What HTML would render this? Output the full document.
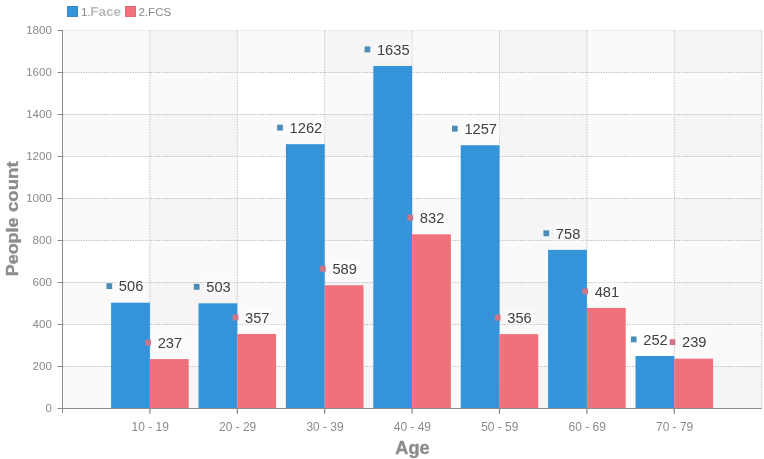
<!DOCTYPE html><html><head><meta charset="utf-8"><title>chart</title><style>html,body{margin:0;padding:0;background:#fff}svg{display:block;will-change:transform}text{font-family:"Liberation Sans",sans-serif}</style></head><body>
<svg width="764" height="459" viewBox="0 0 764 459">
<rect width="764" height="459" fill="#fff"/>
<rect x="62.5" y="30.50" width="699.20" height="42.00" fill="#000" fill-opacity="0.018"/>
<rect x="62.5" y="114.50" width="699.20" height="42.00" fill="#000" fill-opacity="0.018"/>
<rect x="62.5" y="198.50" width="699.20" height="42.00" fill="#000" fill-opacity="0.018"/>
<rect x="62.5" y="282.50" width="699.20" height="42.00" fill="#000" fill-opacity="0.018"/>
<rect x="62.5" y="366.50" width="699.20" height="42.00" fill="#000" fill-opacity="0.018"/>
<rect x="149.90" y="30.5" width="87.4" height="378.0" fill="#000" fill-opacity="0.018"/>
<rect x="324.70" y="30.5" width="87.4" height="378.0" fill="#000" fill-opacity="0.018"/>
<rect x="499.50" y="30.5" width="87.4" height="378.0" fill="#000" fill-opacity="0.018"/>
<rect x="674.30" y="30.5" width="87.4" height="378.0" fill="#000" fill-opacity="0.018"/>
<line x1="62.5" x2="761.70" y1="30.50" y2="30.50" stroke="#ececec" stroke-width="1"/>
<line x1="62.5" x2="761.70" y1="72.50" y2="72.50" stroke="#bcbcbc" stroke-width="1" stroke-dasharray="1.3,1.3"/>
<line x1="62.5" x2="761.70" y1="114.50" y2="114.50" stroke="#bcbcbc" stroke-width="1" stroke-dasharray="1.3,1.3"/>
<line x1="62.5" x2="761.70" y1="156.50" y2="156.50" stroke="#bcbcbc" stroke-width="1" stroke-dasharray="1.3,1.3"/>
<line x1="62.5" x2="761.70" y1="198.50" y2="198.50" stroke="#bcbcbc" stroke-width="1" stroke-dasharray="1.3,1.3"/>
<line x1="62.5" x2="761.70" y1="240.50" y2="240.50" stroke="#bcbcbc" stroke-width="1" stroke-dasharray="1.3,1.3"/>
<line x1="62.5" x2="761.70" y1="282.50" y2="282.50" stroke="#bcbcbc" stroke-width="1" stroke-dasharray="1.3,1.3"/>
<line x1="62.5" x2="761.70" y1="324.50" y2="324.50" stroke="#bcbcbc" stroke-width="1" stroke-dasharray="1.3,1.3"/>
<line x1="62.5" x2="761.70" y1="366.50" y2="366.50" stroke="#bcbcbc" stroke-width="1" stroke-dasharray="1.3,1.3"/>
<line x1="149.90" x2="149.90" y1="30.5" y2="408.5" stroke="#bcbcbc" stroke-width="1" stroke-dasharray="1.3,1.3"/>
<line x1="237.30" x2="237.30" y1="30.5" y2="408.5" stroke="#bcbcbc" stroke-width="1" stroke-dasharray="1.3,1.3"/>
<line x1="324.70" x2="324.70" y1="30.5" y2="408.5" stroke="#bcbcbc" stroke-width="1" stroke-dasharray="1.3,1.3"/>
<line x1="412.10" x2="412.10" y1="30.5" y2="408.5" stroke="#bcbcbc" stroke-width="1" stroke-dasharray="1.3,1.3"/>
<line x1="499.50" x2="499.50" y1="30.5" y2="408.5" stroke="#bcbcbc" stroke-width="1" stroke-dasharray="1.3,1.3"/>
<line x1="586.90" x2="586.90" y1="30.5" y2="408.5" stroke="#bcbcbc" stroke-width="1" stroke-dasharray="1.3,1.3"/>
<line x1="674.30" x2="674.30" y1="30.5" y2="408.5" stroke="#bcbcbc" stroke-width="1" stroke-dasharray="1.3,1.3"/>
<line x1="761.70" x2="761.70" y1="30.5" y2="408.5" stroke="#bcbcbc" stroke-width="1" stroke-dasharray="1.3,1.3"/>
<rect x="111.10" y="302.69" width="38.8" height="106.11" fill="#3594d9"/>
<rect x="149.90" y="359.10" width="38.8" height="49.70" fill="#f0707c"/>
<rect x="198.50" y="303.32" width="38.8" height="105.48" fill="#3594d9"/>
<rect x="237.30" y="333.94" width="38.8" height="74.86" fill="#f0707c"/>
<rect x="285.90" y="144.16" width="38.8" height="264.64" fill="#3594d9"/>
<rect x="324.70" y="285.29" width="38.8" height="123.51" fill="#f0707c"/>
<rect x="373.30" y="65.94" width="38.8" height="342.86" fill="#3594d9"/>
<rect x="412.10" y="234.33" width="38.8" height="174.47" fill="#f0707c"/>
<rect x="460.70" y="145.21" width="38.8" height="263.59" fill="#3594d9"/>
<rect x="499.50" y="334.15" width="38.8" height="74.65" fill="#f0707c"/>
<rect x="548.10" y="249.85" width="38.8" height="158.95" fill="#3594d9"/>
<rect x="586.90" y="307.93" width="38.8" height="100.87" fill="#f0707c"/>
<rect x="635.50" y="355.96" width="38.8" height="52.84" fill="#3594d9"/>
<rect x="674.30" y="358.68" width="38.8" height="50.12" fill="#f0707c"/>
<line x1="62.5" x2="62.5" y1="30.0" y2="413.0" stroke="#8a8a8a" stroke-width="1"/>
<line x1="62.0" x2="761.70" y1="408.5" y2="408.5" stroke="#8a8a8a" stroke-width="1"/>
<line x1="57.5" x2="62.5" y1="30.50" y2="30.50" stroke="#8a8a8a" stroke-width="1"/>
<text x="51.8" y="34.30" font-size="11.5" fill="#8a8a8a" text-anchor="end">1800</text>
<line x1="57.5" x2="62.5" y1="72.50" y2="72.50" stroke="#8a8a8a" stroke-width="1"/>
<text x="51.8" y="76.30" font-size="11.5" fill="#8a8a8a" text-anchor="end">1600</text>
<line x1="57.5" x2="62.5" y1="114.50" y2="114.50" stroke="#8a8a8a" stroke-width="1"/>
<text x="51.8" y="118.30" font-size="11.5" fill="#8a8a8a" text-anchor="end">1400</text>
<line x1="57.5" x2="62.5" y1="156.50" y2="156.50" stroke="#8a8a8a" stroke-width="1"/>
<text x="51.8" y="160.30" font-size="11.5" fill="#8a8a8a" text-anchor="end">1200</text>
<line x1="57.5" x2="62.5" y1="198.50" y2="198.50" stroke="#8a8a8a" stroke-width="1"/>
<text x="51.8" y="202.30" font-size="11.5" fill="#8a8a8a" text-anchor="end">1000</text>
<line x1="57.5" x2="62.5" y1="240.50" y2="240.50" stroke="#8a8a8a" stroke-width="1"/>
<text x="51.8" y="244.30" font-size="11.5" fill="#8a8a8a" text-anchor="end">800</text>
<line x1="57.5" x2="62.5" y1="282.50" y2="282.50" stroke="#8a8a8a" stroke-width="1"/>
<text x="51.8" y="286.30" font-size="11.5" fill="#8a8a8a" text-anchor="end">600</text>
<line x1="57.5" x2="62.5" y1="324.50" y2="324.50" stroke="#8a8a8a" stroke-width="1"/>
<text x="51.8" y="328.30" font-size="11.5" fill="#8a8a8a" text-anchor="end">400</text>
<line x1="57.5" x2="62.5" y1="366.50" y2="366.50" stroke="#8a8a8a" stroke-width="1"/>
<text x="51.8" y="370.30" font-size="11.5" fill="#8a8a8a" text-anchor="end">200</text>
<line x1="57.5" x2="62.5" y1="408.50" y2="408.50" stroke="#8a8a8a" stroke-width="1"/>
<text x="51.8" y="412.30" font-size="11.5" fill="#8a8a8a" text-anchor="end">0</text>
<line x1="149.90" x2="149.90" y1="408.5" y2="413.8" stroke="#8a8a8a" stroke-width="1.3"/>
<text x="150.20" y="430.8" font-size="12" fill="#8a8a8a" text-anchor="middle" textLength="37.2" lengthAdjust="spacingAndGlyphs">10 - 19</text>
<line x1="237.30" x2="237.30" y1="408.5" y2="413.8" stroke="#8a8a8a" stroke-width="1.3"/>
<text x="237.60" y="430.8" font-size="12" fill="#8a8a8a" text-anchor="middle" textLength="37.2" lengthAdjust="spacingAndGlyphs">20 - 29</text>
<line x1="324.70" x2="324.70" y1="408.5" y2="413.8" stroke="#8a8a8a" stroke-width="1.3"/>
<text x="325.00" y="430.8" font-size="12" fill="#8a8a8a" text-anchor="middle" textLength="37.2" lengthAdjust="spacingAndGlyphs">30 - 39</text>
<line x1="412.10" x2="412.10" y1="408.5" y2="413.8" stroke="#8a8a8a" stroke-width="1.3"/>
<text x="412.40" y="430.8" font-size="12" fill="#8a8a8a" text-anchor="middle" textLength="37.2" lengthAdjust="spacingAndGlyphs">40 - 49</text>
<line x1="499.50" x2="499.50" y1="408.5" y2="413.8" stroke="#8a8a8a" stroke-width="1.3"/>
<text x="499.80" y="430.8" font-size="12" fill="#8a8a8a" text-anchor="middle" textLength="37.2" lengthAdjust="spacingAndGlyphs">50 - 59</text>
<line x1="586.90" x2="586.90" y1="408.5" y2="413.8" stroke="#8a8a8a" stroke-width="1.3"/>
<text x="587.20" y="430.8" font-size="12" fill="#8a8a8a" text-anchor="middle" textLength="37.2" lengthAdjust="spacingAndGlyphs">60 - 69</text>
<line x1="674.30" x2="674.30" y1="408.5" y2="413.8" stroke="#8a8a8a" stroke-width="1.3"/>
<text x="674.60" y="430.8" font-size="12" fill="#8a8a8a" text-anchor="middle" textLength="37.2" lengthAdjust="spacingAndGlyphs">70 - 79</text>
<rect x="116.86" y="277.09" width="29.48" height="18" fill="#fff" fill-opacity="0.35"/>
<rect x="106.46" y="283.19" width="5.7" height="5.9" fill="#4b8db6"/>
<text x="118.86" y="291.39" font-size="14.67" fill="#404040">506</text>
<rect x="204.26" y="277.72" width="29.48" height="18" fill="#fff" fill-opacity="0.35"/>
<rect x="193.86" y="283.82" width="5.7" height="5.9" fill="#4b8db6"/>
<text x="206.26" y="292.02" font-size="14.67" fill="#404040">503</text>
<rect x="287.58" y="118.56" width="37.64" height="18" fill="#fff" fill-opacity="0.35"/>
<rect x="277.18" y="124.66" width="5.7" height="5.9" fill="#4b8db6"/>
<text x="289.58" y="132.86" font-size="14.67" fill="#404040">1262</text>
<rect x="374.98" y="40.34" width="37.64" height="18" fill="#fff" fill-opacity="0.35"/>
<rect x="364.58" y="46.44" width="5.7" height="5.9" fill="#4b8db6"/>
<text x="376.98" y="54.64" font-size="14.67" fill="#404040">1635</text>
<rect x="462.38" y="119.61" width="37.64" height="18" fill="#fff" fill-opacity="0.35"/>
<rect x="451.98" y="125.71" width="5.7" height="5.9" fill="#4b8db6"/>
<text x="464.38" y="133.91" font-size="14.67" fill="#404040">1257</text>
<rect x="553.86" y="224.25" width="29.48" height="18" fill="#fff" fill-opacity="0.35"/>
<rect x="543.46" y="230.35" width="5.7" height="5.9" fill="#4b8db6"/>
<text x="555.86" y="238.55" font-size="14.67" fill="#404040">758</text>
<rect x="641.26" y="330.36" width="29.48" height="18" fill="#fff" fill-opacity="0.35"/>
<rect x="630.86" y="336.46" width="5.7" height="5.9" fill="#4b8db6"/>
<text x="643.26" y="344.66" font-size="14.67" fill="#404040">252</text>
<rect x="155.66" y="333.50" width="29.48" height="18" fill="#fff" fill-opacity="0.35"/>
<rect x="145.26" y="339.60" width="5.7" height="5.9" fill="#cc7488"/>
<text x="157.66" y="347.80" font-size="14.67" fill="#404040">237</text>
<rect x="243.06" y="308.34" width="29.48" height="18" fill="#fff" fill-opacity="0.35"/>
<rect x="232.66" y="314.44" width="5.7" height="5.9" fill="#cc7488"/>
<text x="245.06" y="322.64" font-size="14.67" fill="#404040">357</text>
<rect x="330.46" y="259.69" width="29.48" height="18" fill="#fff" fill-opacity="0.35"/>
<rect x="320.06" y="265.79" width="5.7" height="5.9" fill="#cc7488"/>
<text x="332.46" y="273.99" font-size="14.67" fill="#404040">589</text>
<rect x="417.86" y="208.73" width="29.48" height="18" fill="#fff" fill-opacity="0.35"/>
<rect x="407.46" y="214.83" width="5.7" height="5.9" fill="#cc7488"/>
<text x="419.86" y="223.03" font-size="14.67" fill="#404040">832</text>
<rect x="505.26" y="308.55" width="29.48" height="18" fill="#fff" fill-opacity="0.35"/>
<rect x="494.86" y="314.65" width="5.7" height="5.9" fill="#cc7488"/>
<text x="507.26" y="322.85" font-size="14.67" fill="#404040">356</text>
<rect x="592.66" y="282.33" width="29.48" height="18" fill="#fff" fill-opacity="0.35"/>
<rect x="582.26" y="288.43" width="5.7" height="5.9" fill="#cc7488"/>
<text x="594.66" y="296.63" font-size="14.67" fill="#404040">481</text>
<rect x="680.06" y="333.08" width="29.48" height="18" fill="#fff" fill-opacity="0.35"/>
<rect x="669.66" y="339.18" width="5.7" height="5.9" fill="#cc7488"/>
<text x="682.06" y="347.38" font-size="14.67" fill="#404040">239</text>
<g font-size="17.3" font-weight="bold" fill="#8c8c8c" stroke="#8c8c8c" stroke-width="0.35">
<text transform="translate(18.1,276.2) rotate(-90)" textLength="58.6" lengthAdjust="spacingAndGlyphs">People</text>
<text transform="translate(18.1,212.0) rotate(-90)" textLength="50.6" lengthAdjust="spacingAndGlyphs">count</text>
<text x="395.3" y="453.7" font-size="17.5" textLength="34.3" lengthAdjust="spacingAndGlyphs">Age</text>
</g>
<rect x="67.5" y="6.5" width="10" height="10" fill="#3594d9" stroke="#3a86bd" stroke-width="1"/>
<text x="81" y="15.7" font-size="11.7" fill="#8a8a8a">1.</text>
<text x="90.3" y="15.7" font-size="13.3" font-weight="bold" fill="#b9b9b9" textLength="30.8" lengthAdjust="spacingAndGlyphs">Face</text>
<rect x="125.5" y="6.5" width="10" height="10" fill="#f0707c" stroke="#d9697a" stroke-width="1"/>
<text x="138.4" y="15.7" font-size="11.7" fill="#8a8a8a" textLength="33" lengthAdjust="spacingAndGlyphs">2.FCS</text>
</svg></body></html>
